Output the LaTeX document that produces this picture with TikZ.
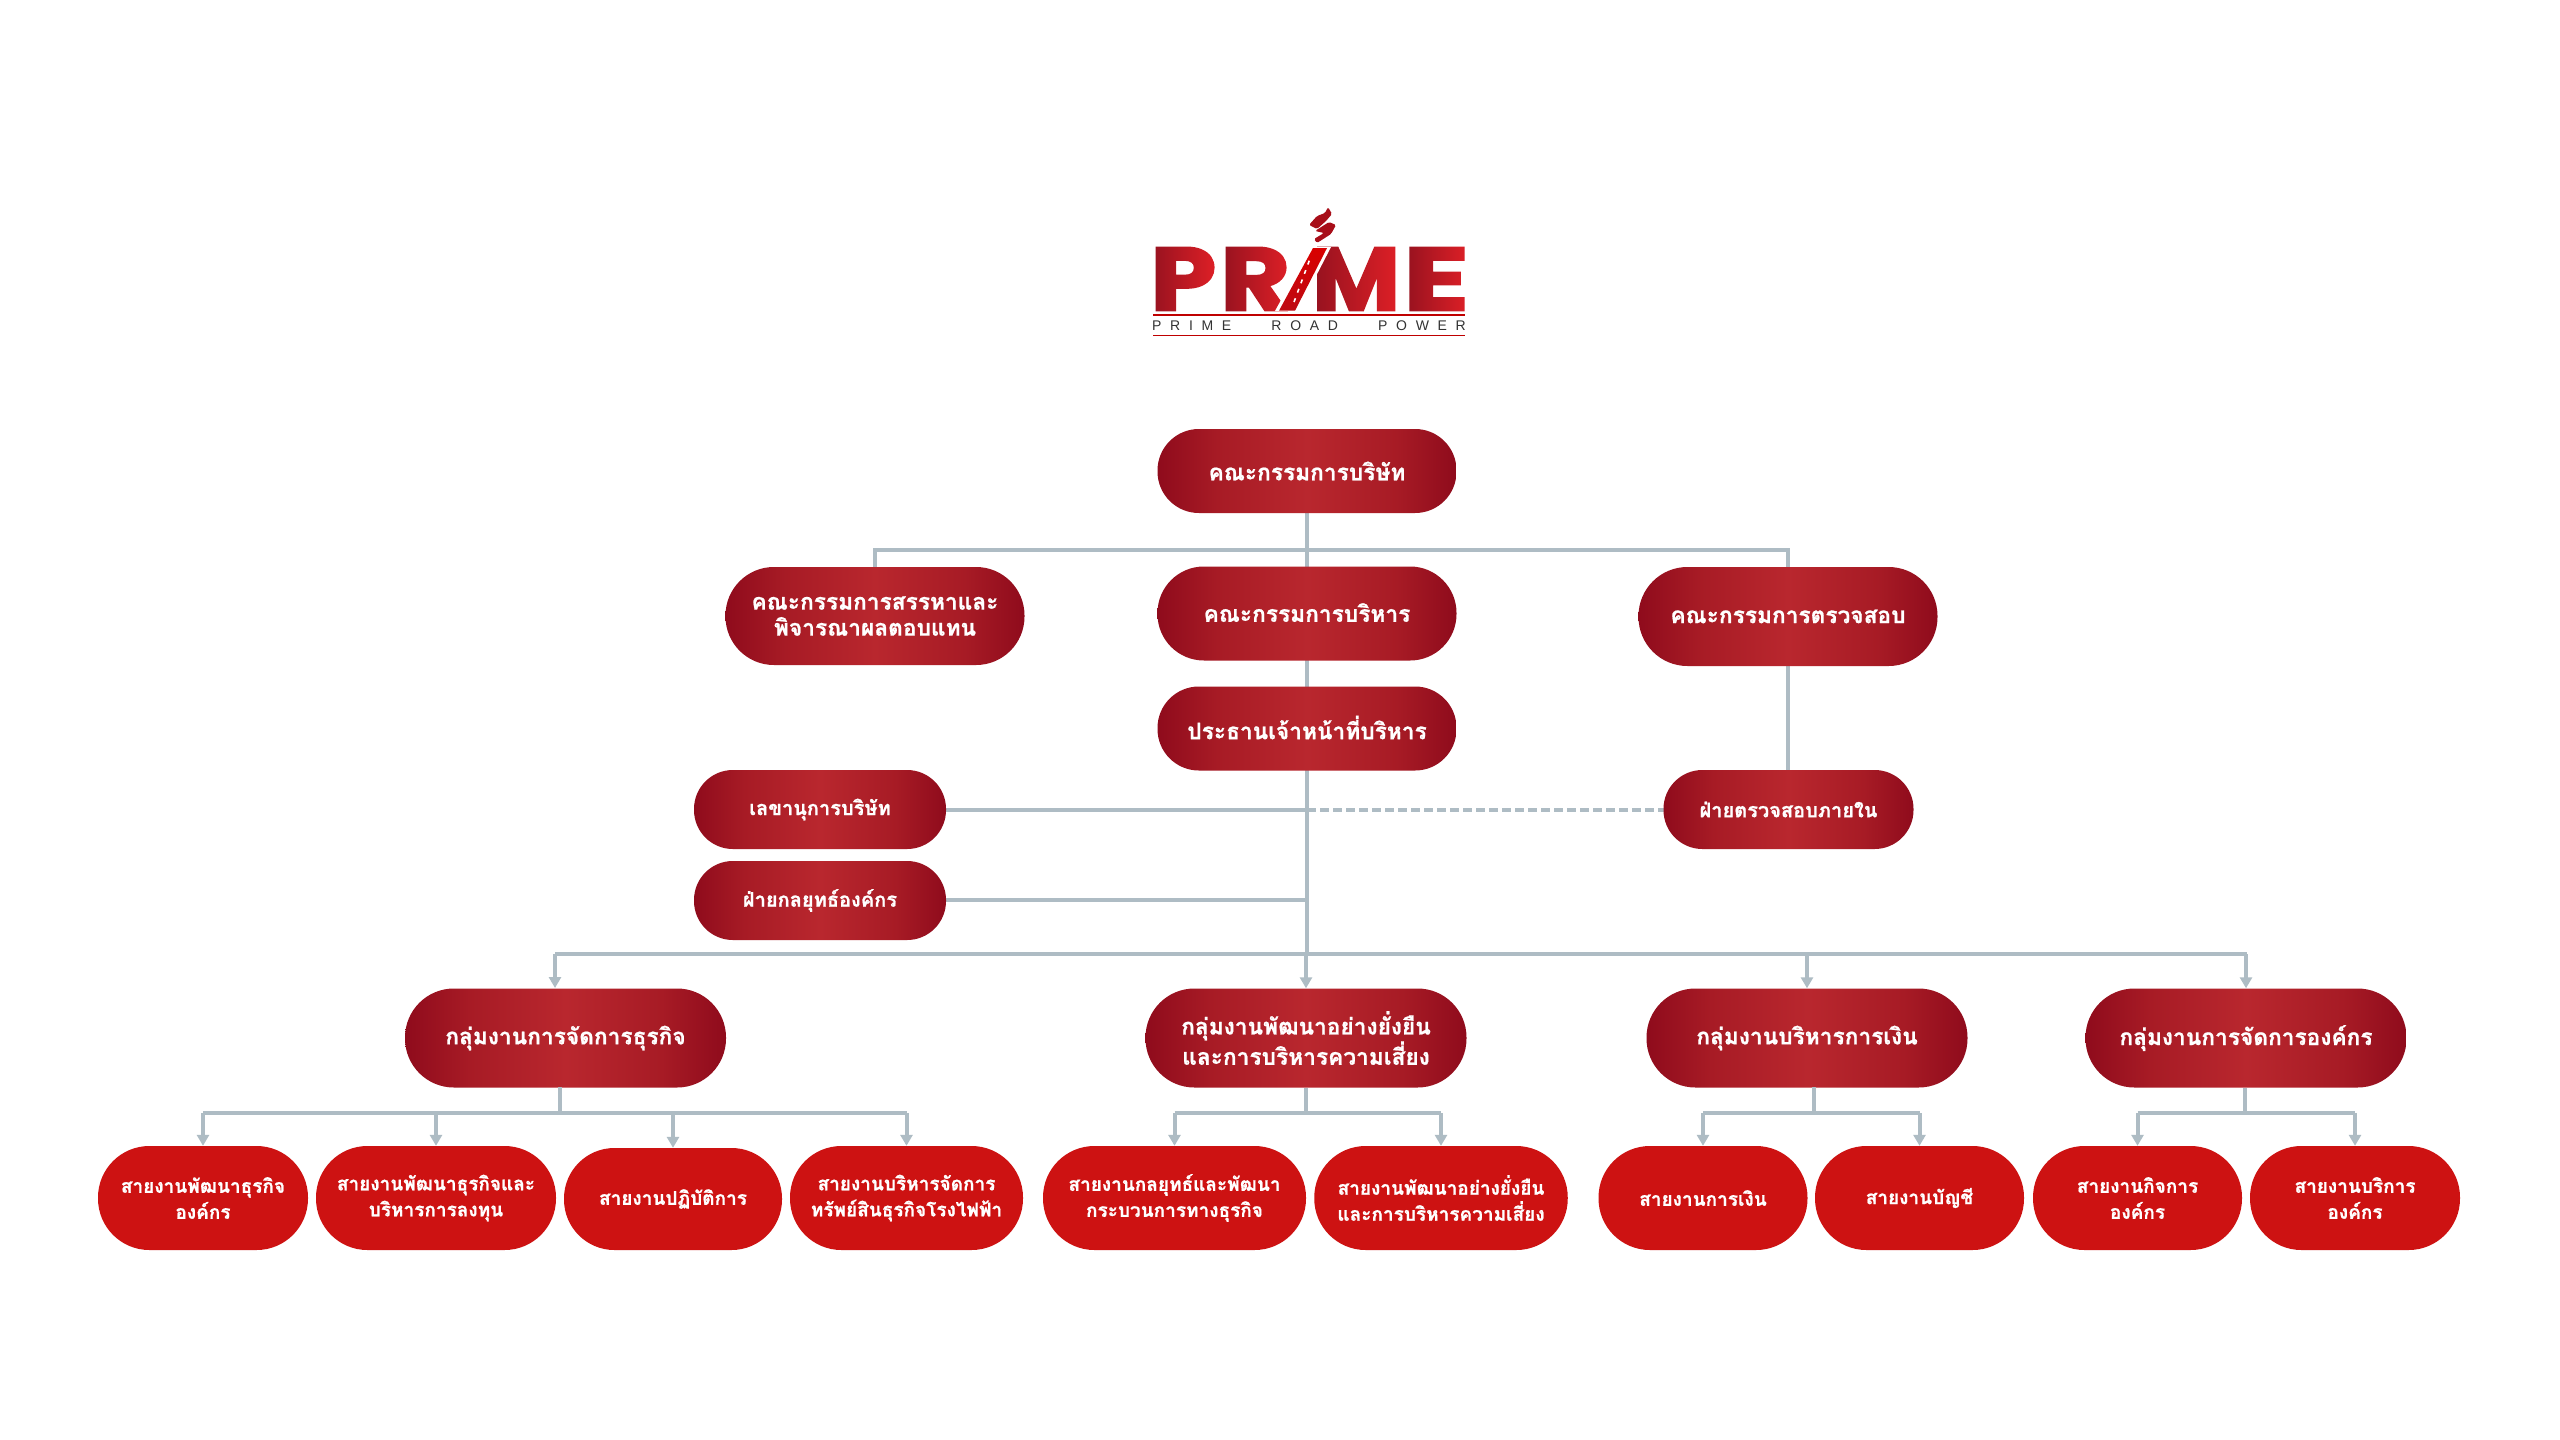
\documentclass[tikz,border=0pt]{standalone}
\usepackage{fontspec}
\usetikzlibrary{arrows.meta,calc}
\newfontfamily\thaifont[Script=Thai,BoldFeatures={FakeBold=0.8}]{Loma}
\newfontfamily\logofont[BoldFeatures={FakeBold=2.2}]{Poppins}
\newfontfamily\tagfont[LetterSpace=62,WordSpace=3.2]{Liberation Sans}
\setmainfont{Liberation Sans}
\definecolor{pedge}{HTML}{8F0B1C}
\definecolor{pmid}{HTML}{A71B25}
\definecolor{pcen}{HTML}{B9272E}
\definecolor{leafred}{HTML}{CD1212}
\definecolor{linec}{HTML}{AEBCC4}
\definecolor{logored}{HTML}{92111F}
\definecolor{logolift}{rgb}{.72,.06,.03}
\pgfdeclarehorizontalshading{pillshade}{100bp}{color(0bp)=(pedge); color(25bp)=(pedge); color(35bp)=(pmid); color(50bp)=(pcen); color(65bp)=(pmid); color(75bp)=(pedge); color(100bp)=(pedge)}
\tikzset{
  ph/.style={minimum height=#1pt,rounded corners={#1pt/2-0.6pt}},
  pill/.style={rectangle,inner sep=0pt,text=white,align=center,
    font=\thaifont\bfseries\fontsize{22.7}{26}\selectfont},
  grad/.style={pill,shading=pillshade},
  topbox/.style={grad,minimum width=299pt},
  midbox/.style={grad,minimum width=252pt,ph=79,font=\thaifont\bfseries\fontsize{20}{26}\selectfont},
  groupbox/.style={grad,minimum width=321pt,ph=99},
  leafbox/.style={pill,fill=leafred,ph=104,font=\thaifont\bfseries\fontsize{19}{26}\selectfont},
  conn/.style={draw=linec,line width=4pt},
  arr/.style={conn,-{Triangle[length=11pt,width=12pt]}},
  dashline/.style={draw=linec,line width=3.5pt,dash pattern=on 9pt off 4pt},
  logoletter/.style={inner sep=0pt,anchor=west,text=logored},
  lift/.style={blend mode=screen,left color=black,right color=logolift},
}
\begin{document}
\begin{tikzpicture}[x=1pt,y=-1pt]
\useasboundingbox (0,0) rectangle (2560,1440);
\fill[white] (0,0) rectangle (2560,1440);
% ---------- logo
\node[logoletter] (lp) at (1150,279) {\logofont\bfseries\resizebox{66pt}{63pt}{P}};
\node[logoletter] (lr) at (1220,279) {\logofont\bfseries\resizebox{70pt}{63pt}{R}};
\node[logoletter] (lm) at (1312,279) {\logofont\bfseries\resizebox{88pt}{63pt}{M}};
\node[logoletter] (le) at (1403,279) {\logofont\bfseries\resizebox{66pt}{63pt}{E}};
\fill[lift] (1148,244) rectangle (1218,314);
\fill[lift] (1218,244) rectangle (1292,314);
\fill[lift] (1310,244) rectangle (1402,314);
\fill[lift] (1402,244) rectangle (1471,314);
\path[fill=white] (1275,311) -- (1310,247) -- (1331,247) -- (1298,311) -- cycle;
\path[bottom color=logored!60!red,top color=red!85!black] (1279,310.7) -- (1313,248) -- (1327,248) -- (1295,310.7) -- cycle;
\draw[white,line width=1.6pt,dash pattern=on 4pt off 6pt] (1294,302) -- (1311,256);
\path[fill=logored!80!red,rounded corners=1.5pt] (1328,207) -- (1332,214) -- (1326,221) -- (1317,229) -- (1309,225) -- (1317,216) -- (1325,213) -- cycle;
\path[fill=logored!80!red,rounded corners=1.5pt] (1315,231) -- (1329,222) -- (1336,225) -- (1331,234) -- (1317,243) -- (1314,239) -- (1324,233) -- cycle;
\draw[red!75!black,line width=1.2pt] (1153,315) -- (1465,315);
\draw[red!75!black,line width=1.2pt] (1153,335.7) -- (1465,335.7);
\node[inner sep=0pt,text=black!80] (tag) at (1309,325.5) {\tagfont\fontsize{14}{14}\selectfont PRIME ROAD POWER};
% ---------- helper coordinates
\coordinate (topbar) at (1307,550);
\coordinate (busbar) at (1307,954);
\coordinate (dashjoin) at (1307,810);
\coordinate (strjoin) at (1307,900);
\coordinate (gonein) at (555,954);
\coordinate (goneinend) at (555,988);
\coordinate (gonestem) at (559.5,1087);
\coordinate (gonebar) at (559.5,1113);
\coordinate (gtwobar) at (1305,1113);
\coordinate (gthreestem) at (1814,1087);
\coordinate (gthreebar) at (1814,1113);
\coordinate (gfourbar) at (2245,1113);
% ---------- connectors first (behind the pills)
\draw[conn] (1307,513) coordinate (bs) -- (1307,567);
\draw[conn] (875,567) coordinate (ns) |- (topbar) -| (1788,567) coordinate (as);
\draw[conn] (1307,660) coordinate (es) -- (1307,687) coordinate (cn);
\draw[conn] (1307,770) coordinate (cs) -- (busbar);
\draw[conn] (1788,666) coordinate (ax) -- (1788,770) coordinate (ia);
\draw[conn] (946,810) coordinate (sx) -- (dashjoin);
\draw[dashline] (dashjoin) -- (1664,810) coordinate (ib);
\draw[conn] (946,900) coordinate (sg) -- (strjoin);
\draw[conn] (555,954) -- (2246.5,954);
% ---------- top boxes
\node[topbox,ph=84] (board) at (1307,471) {คณะกรรมการบริษัท};
\node[topbox,ph=98] (nom) at (875,616) {คณะกรรมการสรรหาและ\\พิจารณาผลตอบแทน};
\node[topbox,ph=94] (exec) at (1307,613.5) {\raisebox{2pt}{คณะกรรมการบริหาร}};
\node[topbox,ph=99] (audit) at (1788,616.5) {คณะกรรมการตรวจสอบ};
\node[topbox,ph=84] (ceo) at (1307,728.5) {\raisebox{2pt}{ประธานเจ้าหน้าที่บริหาร}};
\node[midbox] (sec) at (820,809.5) {เลขานุการบริษัท};
\node[midbox] (strat) at (820,900.5) {ฝ่ายกลยุทธ์องค์กร};
\node[midbox,minimum width=250pt] (inaudit) at (1788.5,809.5) {ฝ่ายตรวจสอบภายใน};
% ---------- groups
\node[groupbox] (gone) at (565.5,1038) {กลุ่มงานการจัดการธุรกิจ};
\node[groupbox] (gtwo) at (1306,1038) {กลุ่มงานพัฒนาอย่างยั่งยืน\\และการบริหารความเสี่ยง};
\node[groupbox] (gthree) at (1807,1038) {กลุ่มงานบริหารการเงิน};
\node[groupbox] (gfour) at (2246,1038) {กลุ่มงานการจัดการองค์กร};
% ---------- leaves
\node[leafbox,minimum width=210pt] (la) at (203,1198) {สายงานพัฒนาธุรกิจ\\องค์กร};
\node[leafbox,minimum width=240pt] (lb) at (436,1198) {สายงานพัฒนาธุรกิจและ\\บริหารการลงทุน};
\node[leafbox,minimum width=218pt,ph=102] (lc) at (673,1199) {สายงานปฏิบัติการ};
\node[leafbox,minimum width=233pt] (ld) at (906.5,1198) {สายงานบริหารจัดการ\\ทรัพย์สินธุรกิจโรงไฟฟ้า};
\node[leafbox,minimum width=263pt] (le1) at (1174.5,1198) {สายงานกลยุทธ์และพัฒนา\\กระบวนการทางธุรกิจ};
\node[leafbox,minimum width=253.5pt] (lf) at (1441,1198) {สายงานพัฒนาอย่างยั่งยืน\\และการบริหารความเสี่ยง};
\node[leafbox,minimum width=209pt] (lg) at (1703,1198) {สายงานการเงิน};
\node[leafbox,minimum width=209pt] (lh) at (1919.5,1198) {สายงานบัญชี};
\node[leafbox,minimum width=209pt] (li) at (2137.5,1198) {สายงานกิจการ\\องค์กร};
\node[leafbox,minimum width=210pt] (lj) at (2355,1198) {สายงานบริการ\\องค์กร};
% ---------- arrows
\draw[arr] (gonein) -- (goneinend);
\draw[arr] (gtwo.north |- busbar) -- (gtwo.north);
\draw[arr] (gthree.north |- busbar) -- (gthree.north);
\draw[arr] (gfour.north |- busbar) -- (gfour.north);
\draw[conn] (gonestem) -- (gonebar);
\draw[conn] (gtwo.south) -- (gtwo.south |- gtwobar);
\draw[conn] (gthreestem) -- (gthreebar);
\draw[conn] (gfour.south -| gfourbar) -- (gfourbar);
\draw[conn] (la.north |- gonebar) -- (ld.north |- gonebar);
\draw[conn] (le1.north |- gtwobar) -- (lf.north |- gtwobar);
\draw[conn] (lg.north |- gthreebar) -- (lh.north |- gthreebar);
\draw[conn] (li.north |- gfourbar) -- (lj.north |- gfourbar);
\foreach \leaf/\bar in {la/gonebar,lb/gonebar,lc/gonebar,ld/gonebar,le1/gtwobar,lf/gtwobar,lg/gthreebar,lh/gthreebar,li/gfourbar,lj/gfourbar}
  \draw[arr] (\leaf.north |- \bar) -- (\leaf.north);
\end{tikzpicture}
\end{document}
